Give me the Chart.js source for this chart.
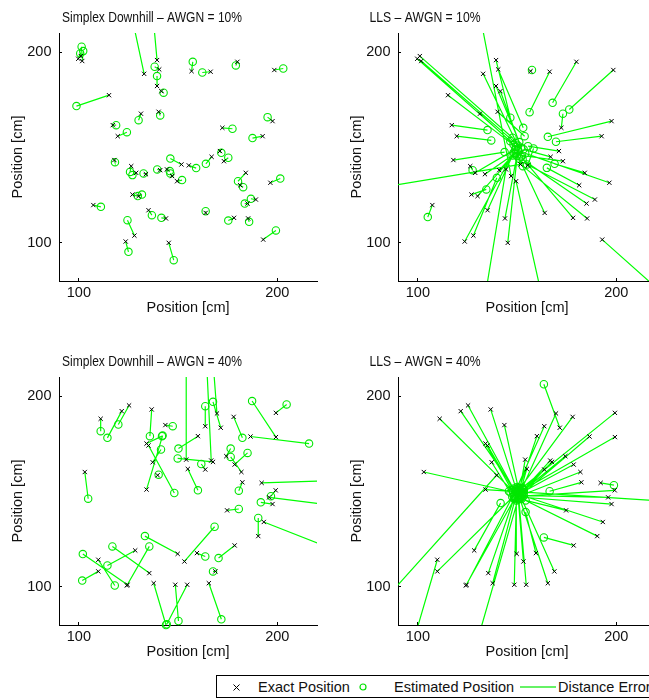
<!DOCTYPE html>
<html>
<head>
<meta charset="utf-8">
<script src="https://cdn.jsdelivr.net/npm/chart.js@4.4.1/dist/chart.umd.min.js"></script>
<style>
  html, body { margin: 0; padding: 0; background: #fff; }
  body { width: 649px; height: 700px; overflow: hidden; position: relative; font-family: "Liberation Sans", Arial, sans-serif; }
  canvas { position: absolute; }
  .legend-box { position: absolute; left: 216px; top: 675px; width: 470px; height: 23px; border: 1px solid #000; box-sizing: border-box; background: #fff; }
  .lg-text { position: absolute; top: 679px; font-size: 14.5px; line-height: 17px; color: #111; white-space: nowrap; }
  .lg-mark { position: absolute; }
</style>
</head>
<body>
<canvas id="sd10" width="330" height="325" style="left:0;top:0"></canvas>
<canvas id="lls10" width="330" height="325" style="left:339px;top:0"></canvas>
<canvas id="sd40" width="330" height="325" style="left:0;top:344px"></canvas>
<canvas id="lls40" width="330" height="325" style="left:339px;top:344px"></canvas>

<div class="legend-box"></div>
<svg class="lg-mark" style="left:232px;top:683px" width="9" height="9"><path d="M1.5 1.5L7.5 7.5M7.5 1.5L1.5 7.5" stroke="#000" stroke-width="1"/></svg>
<span class="lg-text" style="left:258px">Exact Position</span>
<svg class="lg-mark" style="left:358px;top:682px" width="10" height="10"><circle cx="5" cy="5" r="3" fill="none" stroke="#00e000" stroke-width="1.2"/></svg>
<span class="lg-text" style="left:394px">Estimated Position</span>
<svg class="lg-mark" style="left:520px;top:682px" width="36" height="10"><line x1="0" y1="5" x2="36" y2="5" stroke="#33ee33" stroke-width="1.5"/></svg>
<span class="lg-text" style="left:558px">Distance Error</span>

<script>
// axis settings
const tickValues = [100, 200];
const xLimits = [90, 220];
const yLimits = [80, 210];

// exact positions, AWGN 10% (same for both methods)
const exactX10 = [101.0, 99.7, 101.7, 132.9, 139.4, 140.5, 139.4, 141.6, 156.8, 166.4, 179.9, 198.5, 115.2, 131.3, 140.2, 117.1, 119.6, 172.3, 192.6, 197.6, 117.9, 126.4, 128.9, 133.8, 151.7, 155.4, 141.0, 144.4, 147.0, 149.5, 166.9, 171.1, 173.1, 184.1, 181.3, 196.5, 189.2, 185.0, 107.3, 127.0, 130.1, 135.1, 143.9, 163.9, 178.2, 185.3, 128.0, 123.6, 145.3, 192.9];
const exactY10 = [197.9, 196.5, 195.3, 188.6, 195.8, 190.9, 182.2, 179.5, 190.0, 189.7, 194.9, 190.6, 177.4, 167.7, 168.7, 161.7, 155.9, 160.3, 155.9, 163.8, 143.4, 140.2, 136.7, 136.0, 141.1, 140.6, 138.1, 138.5, 135.0, 132.3, 145.1, 148.1, 142.8, 136.7, 130.2, 131.5, 122.7, 120.6, 119.8, 125.3, 124.5, 117.1, 112.8, 115.7, 113.1, 112.8, 103.8, 100.7, 100.0, 101.7];

// simplex downhill estimates, AWGN 10%
const sdX10 = [101.4, 100.7, 102.2, 127.0, 137.7, 138.2, 139.4, 142.7, 157.4, 162.2, 179.1, 203.0, 98.8, 130.1, 141.0, 118.8, 124.2, 177.4, 187.5, 195.1, 118.2, 125.8, 127.0, 132.6, 146.1, 159.1, 139.5, 145.8, 146.1, 152.0, 164.0, 171.8, 175.3, 180.2, 182.8, 201.5, 186.7, 183.6, 111.1, 129.7, 131.8, 136.8, 141.6, 163.9, 175.3, 185.8, 124.5, 125.0, 147.8, 199.3];
const sdY10 = [202.8, 199.3, 200.5, 217.1, 215.4, 192.3, 187.4, 178.7, 194.9, 189.3, 193.0, 191.4, 171.7, 164.3, 166.8, 161.7, 158.0, 159.8, 154.9, 165.9, 142.3, 137.2, 135.5, 136.4, 144.2, 139.2, 138.5, 137.6, 136.4, 132.9, 141.4, 147.2, 144.6, 132.3, 129.2, 133.7, 123.1, 120.6, 118.9, 124.5, 125.3, 114.5, 113.1, 116.6, 111.7, 111.0, 111.9, 95.3, 90.9, 106.5];

// LLS estimates, AWGN 10%
const llsX10 = [147.7, 146.6, 149.1, 150.4, 146.6, 153.1, 151.1, 152.1, 157.5, 156.3, 167.9, 176.3, 149.4, 148.2, 153.8, 135.1, 137.0, 173.1, 169.6, 165.5, 143.7, 127.6, 149.1, 150.8, 71.8, 158.3, 148.7, 133.9, 131.4, 162.5, 153.3, 155.5, 152.4, 168.9, 165.0, 154.1, 155.0, 152.8, 105.0, 134.5, 149.4, 147.7, 149.9, 151.1, 152.1, 152.9, 139.8, 148.2, 150.4, 223.0];
const llsY10 = [155.1, 153.3, 152.4, 151.0, 165.6, 160.3, 152.8, 149.8, 190.6, 168.5, 173.4, 169.9, 150.3, 151.6, 155.9, 159.1, 153.7, 167.7, 153.0, 155.6, 147.6, 138.1, 149.0, 148.1, 127.4, 149.5, 146.9, 72.0, 218.9, 72.0, 149.0, 150.7, 145.8, 141.4, 139.3, 146.9, 141.1, 143.7, 113.5, 128.0, 146.9, 145.8, 145.5, 144.1, 145.1, 140.2, 134.1, 147.2, 148.6, 73.8];

// exact positions, AWGN 40%
const exactX40 = [111.0, 121.6, 125.3, 136.7, 143.6, 134.1, 135.1, 137.2, 139.7, 134.1, 154.1, 166.7, 167.6, 169.6, 171.5, 163.7, 160.0, 163.7, 154.9, 174.3, 178.5, 181.9, 182.4, 178.0, 199.3, 199.3, 186.5, 192.1, 199.2, 197.6, 195.9, 174.7, 190.4, 193.2, 103.0, 109.8, 109.8, 124.5, 124.2, 128.4, 135.5, 149.8, 153.2, 159.5, 178.5, 168.8, 137.7, 148.6, 154.6, 165.5];
const exactY40 = [188.1, 192.1, 195.1, 193.0, 184.8, 175.1, 174.1, 165.3, 158.5, 151.0, 166.7, 166.2, 165.5, 190.9, 183.4, 184.2, 179.0, 161.5, 161.8, 168.5, 164.1, 160.2, 154.8, 189.1, 191.2, 178.5, 178.8, 154.5, 150.6, 143.4, 146.9, 140.1, 126.6, 134.0, 160.2, 114.2, 108.1, 101.1, 100.7, 119.1, 107.2, 117.3, 113.3, 117.7, 121.7, 108.1, 101.9, 101.1, 101.1, 101.9];

// simplex downhill estimates, AWGN 40%
const sdX40 = [111.0, 114.4, 119.9, 135.8, 147.3, 141.9, 148.1, 141.4, 140.2, 142.2, 154.1, 164.2, 149.8, 167.6, 167.6, 163.7, 150.2, 161.7, 160.0, 176.5, 185.0, 176.5, 180.6, 182.4, 204.7, 187.3, 216.0, 226.7, 196.8, 191.7, 228.4, 180.6, 190.4, 226.7, 104.7, 118.1, 101.7, 102.0, 135.5, 114.4, 116.9, 133.3, 168.4, 163.7, 170.4, 167.6, 143.9, 150.2, 144.3, 171.8];
const sdY40 = [181.6, 178.1, 185.1, 179.0, 184.2, 179.0, 149.2, 172.0, 158.8, 179.3, 221.9, 221.9, 167.3, 218.4, 197.0, 194.7, 172.5, 164.4, 150.6, 172.5, 170.2, 168.1, 150.4, 178.1, 195.6, 197.4, 175.1, 155.7, 147.5, 144.3, 142.7, 140.8, 136.1, 120.3, 146.2, 100.7, 103.3, 117.2, 121.2, 111.2, 121.2, 126.6, 131.5, 115.9, 115.1, 108.1, 80.0, 82.1, 80.4, 83.0];

// LLS estimates, AWGN 40%
const llsX40 = [147.6, 148.4, 148.9, 149.6, 150.6, 147.9, 149.2, 146.7, 78.7, 231.6, 151.3, 151.8, 150.9, 152.5, 163.5, 150.1, 150.6, 152.6, 129.1, 153.4, 152.9, 152.3, 166.4, 151.3, 152.6, 151.8, 153.4, 198.8, 152.6, 151.3, 150.6, 154.3, 151.8, 153.4, 145.9, 95.5, 148.4, 147.6, 148.9, 141.7, 148.4, 149.6, 150.6, 154.3, 163.5, 152.3, 149.2, 149.6, 150.9, 151.3];
const llsY40 = [150.6, 151.5, 150.1, 151.1, 151.9, 149.7, 148.9, 149.4, 88.0, 144.4, 150.6, 149.4, 148.3, 151.5, 206.2, 152.4, 150.1, 148.9, 68.6, 150.6, 149.7, 148.0, 150.1, 151.5, 151.9, 150.1, 149.4, 153.3, 147.6, 147.1, 148.0, 145.3, 146.6, 147.6, 150.1, 63.3, 147.6, 147.1, 146.6, 143.9, 146.2, 147.1, 145.9, 139.2, 125.9, 146.2, 146.6, 145.3, 145.9, 146.6];

const fontFamily = '"Liberation Sans", Arial, sans-serif';
const axisFont = { family: fontFamily, size: 14.5 };
const textColor = '#111';

function toPoints(xs, ys) {
  return xs.map((x, i) => ({ x: x, y: ys[i] }));
}

// exact -> estimate pairs, broken with a null point so each pair is its own segment
function toSegments(x0, y0, x1, y1) {
  const out = [];
  x0.forEach((x, i) => {
    out.push({ x: x, y: y0[i] }, { x: x1[i], y: y1[i] }, { x: null, y: null });
  });
  return out;
}

// titles sit left of the axes centre in the original, so draw them by hand
const panelTitle = {
  id: 'panelTitle',
  afterDraw(chart, args, opts) {
    const ctx = chart.ctx;
    ctx.save();
    ctx.font = '14.5px "Liberation Sans Narrow", "Liberation Sans", Arial, sans-serif';
    ctx.fillStyle = textColor;
    ctx.textAlign = 'center';
    ctx.textBaseline = 'middle';
    ctx.fillText(opts.text, opts.x, opts.y, opts.maxWidth);
    ctx.restore();
  }
};

function makePanel(id, title, titleX, titleWidth, exX, exY, estX, estY) {
  const ctx = document.getElementById(id).getContext('2d');
  return new Chart(ctx, {
    type: 'scatter',
    data: {
      datasets: [
        {
          type: 'line',
          label: 'Distance Error',
          data: toSegments(exX, exY, estX, estY),
          borderColor: '#00ff00',
          borderWidth: 1.2,
          pointRadius: 0,
          tension: 0,
          spanGaps: false,
          order: 2
        },
        {
          label: 'Estimated Position',
          data: toPoints(estX, estY),
          pointStyle: 'circle',
          pointRadius: 3.7,
          borderColor: '#00e600',
          backgroundColor: 'rgba(0,0,0,0)',
          borderWidth: 1.1,
          clip: 6,
          order: 1
        },
        {
          label: 'Exact Position',
          data: toPoints(exX, exY),
          pointStyle: 'crossRot',
          pointRadius: 3,
          borderColor: '#000',
          borderWidth: 1,
          clip: 6,
          order: 0
        }
      ]
    },
    options: {
      responsive: false,
      animation: false,
      events: [],
      layout: { padding: { top: 33, right: 13, left: 0, bottom: 0 } },
      plugins: {
        legend: { display: false },
        tooltip: { enabled: false },
        panelTitle: { text: title, x: titleX, y: 17.5, maxWidth: titleWidth }
      },
      scales: {
        x: {
          type: 'linear',
          min: xLimits[0],
          max: xLimits[1],
          afterBuildTicks: s => { s.ticks = tickValues.map(v => ({ value: v })); },
          afterFit: s => { s.height = 44; },
          grid: { drawOnChartArea: false, drawTicks: true, tickLength: -3, color: '#000' },
          border: { display: true, color: '#000', width: 1 },
          ticks: { padding: 6, font: axisFont, color: textColor, maxRotation: 0, autoSkip: false },
          title: { display: true, text: 'Position [cm]', font: axisFont, color: textColor, padding: { top: 0, bottom: 8 } }
        },
        y: {
          type: 'linear',
          min: yLimits[0],
          max: yLimits[1],
          afterBuildTicks: s => { s.ticks = tickValues.map(v => ({ value: v })); },
          afterFit: s => { s.width = 59; },
          grid: { drawOnChartArea: false, drawTicks: true, tickLength: -3, color: '#000' },
          border: { display: true, color: '#000', width: 1 },
          ticks: { padding: 10.5, font: axisFont, color: textColor, autoSkip: false },
          title: { display: true, text: 'Position [cm]', font: axisFont, color: textColor, padding: { top: 9, bottom: 0 } }
        }
      }
    },
    plugins: [panelTitle]
  });
}

makePanel('sd10', 'Simplex Downhill \u2013 AWGN = 10%', 152, 180, exactX10, exactY10, sdX10, sdY10);
makePanel('lls10', 'LLS \u2013 AWGN = 10%', 86, 111, exactX10, exactY10, llsX10, llsY10);
makePanel('sd40', 'Simplex Downhill \u2013 AWGN = 40%', 152, 180, exactX40, exactY40, sdX40, sdY40);
makePanel('lls40', 'LLS \u2013 AWGN = 40%', 86, 111, exactX40, exactY40, llsX40, llsY40);
</script>
</body>
</html>
